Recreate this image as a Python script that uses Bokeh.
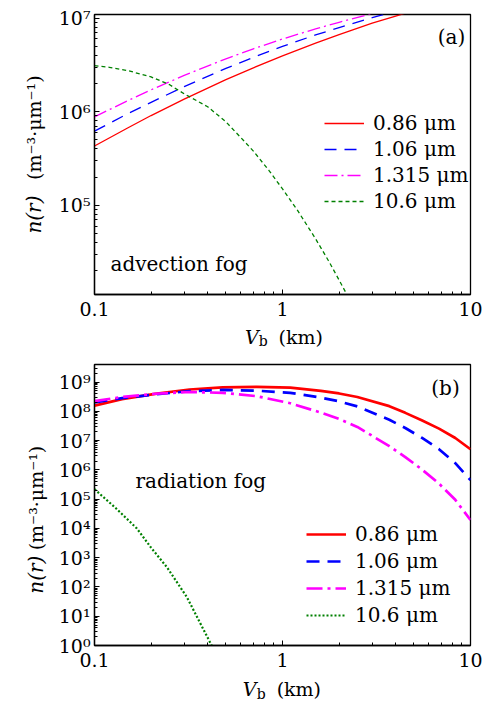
import math
from bokeh.plotting import figure
from bokeh.models import (FixedTicker, Label, Legend, LegendItem, Range1d,
                          CustomJSTickFormatter)
from bokeh.layouts import column
from bokeh.embed import file_html
from bokeh.resources import INLINE

# ---------------- data ----------------
series_labels = ["0.86 μm", "1.06 μm", "1.315 μm", "10.6 μm"]

# (a) advection fog
a_x = [0.1, 0.15, 0.2, 0.3, 0.5, 0.7, 1, 1.5, 2, 3, 4, 5]
a_086 = [4.3e5, 6.7e5, 9.1e5, 1.36e6, 2.2e6, 2.94e6, 3.95e6, 5.4e6, 6.65e6, 8.8e6, 1.05e7, 1.2e7]
a_106 = [6.2e5, 9.5e5, 1.26e6, 1.85e6, 2.9e6, 3.8e6, 4.98e6, 6.6e6, 7.9e6, 1.01e7, 1.18e7, 1.3e7]
a_1315 = [8.8e5, 1.31e6, 1.71e6, 2.44e6, 3.67e6, 4.69e6, 5.97e6, 7.66e6, 9.0e6, 1.11e7, 1.26e7, 1.4e7]
a_x_106 = [0.1, 0.12, 0.15, 0.2, 0.25, 0.3, 0.4, 0.5, 0.6, 0.7, 0.85, 1, 1.2, 1.5, 1.75, 2, 2.5]
a_10600 = [3.1e6, 2.98e6, 2.75e6, 2.35e6, 1.95e6, 1.55e6, 1.13e6, 7.8e5, 5.3e5, 3.8e5,
           2.34e5, 1.5e5, 8.9e4, 4.4e4, 2.6e4, 1.6e4, 6.9e3]

# (b) radiation fog
b_x = [0.1, 0.14, 0.21, 0.32, 0.48, 0.73, 1.1, 1.6, 2.0, 2.5, 3.7, 4.5, 5.5, 6.8, 8.3, 10]
b_086 = [1.58e8, 2.63e8, 3.98e8, 5.6e8, 6.6e8, 6.9e8, 6.5e8, 5.0e8, 4.1e8, 3.1e8, 1.51e8,
         8.9e7, 5.0e7, 2.57e7, 1.23e7, 5.1e6]
b_106 = [2.04e8, 2.82e8, 3.8e8, 4.9e8, 5.4e8, 5.1e8, 4.3e8, 2.95e8, 2.2e8, 1.48e8, 5.2e7,
         2.7e7, 1.26e7, 5.1e6, 1.7e6, 4.5e5]
b_1315 = [2.24e8, 3.1e8, 4.0e8, 4.6e8, 4.3e8, 3.3e8, 1.9e8, 9.1e7, 5.5e7, 2.95e7, 6.5e6,
          2.75e6, 1.05e6, 3.4e5, 9.5e4, 1.95e4]
b_x_106 = [0.1, 0.13, 0.168, 0.2, 0.243, 0.31, 0.36, 0.42, 0.45]
b_10600 = [2.2e5, 4.9e4, 1.0e4, 2.2e3, 4.7e2, 45, 6.9, 1.0, 0.4]

x_major = [0.1, 1, 10]
x_minor = [m * 0.1 for m in range(2, 10)] + [float(m) for m in range(2, 10)]

FONT = "DejaVu Serif"

x_fmt = CustomJSTickFormatter(code="return tick >= 1 ? tick.toFixed(0) : tick.toFixed(1);")
y_fmt = CustomJSTickFormatter(code="""
const e = Math.round(Math.log10(tick));
const sup = "⁰¹²³⁴⁵⁶⁷⁸⁹";
return "10" + String(e).split("").map(c => sup[+c]).join("");
""")


def make_fig(height, top, bottom, left, right, y0, y1, y_major, y_minor):
    p = figure(width=493, height=height, x_axis_type="log", y_axis_type="log",
               x_range=Range1d(0.1, 10), y_range=Range1d(y0, y1),
               output_backend="svg", toolbar_location=None,
               min_border_left=left, min_border_right=right,
               min_border_top=top, min_border_bottom=bottom)
    p.grid.visible = False
    p.outline_line_color = "black"
    p.outline_line_width = 1.3
    p.background_fill_color = "white"
    p.border_fill_color = "white"
    p.xaxis[0].ticker = FixedTicker(ticks=x_major, minor_ticks=x_minor)
    p.yaxis[0].ticker = FixedTicker(ticks=y_major, minor_ticks=y_minor)
    p.xaxis[0].formatter = x_fmt
    p.yaxis[0].formatter = y_fmt
    for ax in (p.xaxis[0], p.yaxis[0]):
        ax.axis_line_color = "black"
        ax.axis_line_width = 1.3
        ax.major_tick_in = 5
        ax.major_tick_out = 0
        ax.minor_tick_in = 3
        ax.minor_tick_out = 0
        ax.major_tick_line_color = "black"
        ax.minor_tick_line_color = "black"
        ax.major_label_text_font = FONT
        ax.major_label_text_font_size = "19px"
        ax.major_label_text_color = "black"
    p.xaxis[0].major_label_standoff = 7
    p.yaxis[0].major_label_standoff = 4
    return p


def make_label(x, y, text, units="screen", size="19px", style="normal", align="left",
               baseline="middle", angle=0.0):
    return Label(x=x, y=y, x_units=units, y_units=units, text=text,
                 text_font=FONT, text_font_size=size, text_font_style=style,
                 text_align=align, text_baseline=baseline, angle=angle,
                 text_color="black")


def add_legend(p, renderers, loc, spacing):
    items = [LegendItem(label=lab, renderers=[r]) for lab, r in zip(series_labels, renderers)]
    leg = Legend(items=items, location=loc, padding=0, margin=0, spacing=spacing,
                 label_height=20, glyph_height=20, glyph_width=40, label_standoff=9,
                 label_text_font=FONT, label_text_font_size="20px",
                 label_text_color="black", border_line_alpha=0,
                 background_fill_alpha=0)
    p.add_layout(leg)


def add_axis_titles(p, vx, bx, kmx, xy, by, yx, ny, uy):
    # x title: italic V, subscript b, (km); y title: italic n(r), units
    p.add_layout(make_label(kmx, xy, "(km)", units="data"), "below")
    p.add_layout(make_label(vx, xy, "V", units="data", style="italic"), "right")
    p.add_layout(make_label(bx, by, "b", units="data", size="14px"), "right")
    p.add_layout(make_label(yx, ny, "n(r)", units="data", style="italic", size="20px",
                            angle=math.pi / 2), "left")
    p.add_layout(make_label(yx, uy, "(m⁻³·μm⁻¹)", units="data", angle=math.pi / 2), "left")


# ---------------- panel (a) ----------------
ya_major = [1e5, 1e6, 1e7]
ya_minor = [m * 10.0 ** k for k in (4, 5, 6) for m in range(2, 10)]
pa = make_fig(352, 14, 58, 91, 22, 1.12e4, 1.09e7, ya_major, ya_minor)
ra1 = pa.line(a_x, a_086, line_color="#ff0000", line_width=1.3)
ra2 = pa.line(a_x, a_106, line_color="#0000ff", line_width=1.3, line_dash="12 8")
ra3 = pa.line(a_x, a_1315, line_color="#ff00ff", line_width=1.3, line_dash="13 4 2 4")
ra4 = pa.line(a_x_106, a_10600, line_color="#008000", line_width=1.3, line_dash="4 3")
add_legend(pa, [ra1, ra2, ra3, ra4], (230, 81), 2)
pa.add_layout(make_label(357, 258, "(a)", size="20px", align="center"))
pa.add_layout(make_label(16, 31, "advection fog", size="20px"))
add_axis_titles(pa, 0.631, 0.748, 0.953, 3.97e3, 3.57e3, 0.0478, 5.0e4, 1.87e5)

# ---------------- panel (b) ----------------
yb_major = [10.0 ** k for k in range(0, 10)]
yb_minor = [m * 10.0 ** k for k in range(0, 10) for m in range(2, 10) if m * 10.0 ** k < 4e9]
pb = make_fig(349, 12, 56, 94, 21, 1.0, 4.0e9, yb_major, yb_minor)
rb1 = pb.line(b_x, b_086, line_color="#ff0000", line_width=2.7)
rb2 = pb.line(b_x, b_106, line_color="#0000ff", line_width=2.7, line_dash="13 8")
rb3 = pb.line(b_x, b_1315, line_color="#ff00ff", line_width=2.7, line_dash="16 5 3 5")
rb4 = pb.line(b_x_106, b_10600, line_color="#008000", line_width=2.2, line_dash="2 2")
add_legend(pb, [rb1, rb2, rb3, rb4], (212, 18), 3)
pb.add_layout(make_label(351, 258, "(b)", size="20px", align="center"))
pb.add_layout(make_label(41, 165, "radiation fog", size="20px"))
add_axis_titles(pb, 0.615, 0.729, 0.931, 0.0316, 0.0224, 0.0488, 59.0, 1.79e3)

layout = column(pa, pb, spacing=0)
open("out.html", "w").write(file_html(layout, INLINE))
